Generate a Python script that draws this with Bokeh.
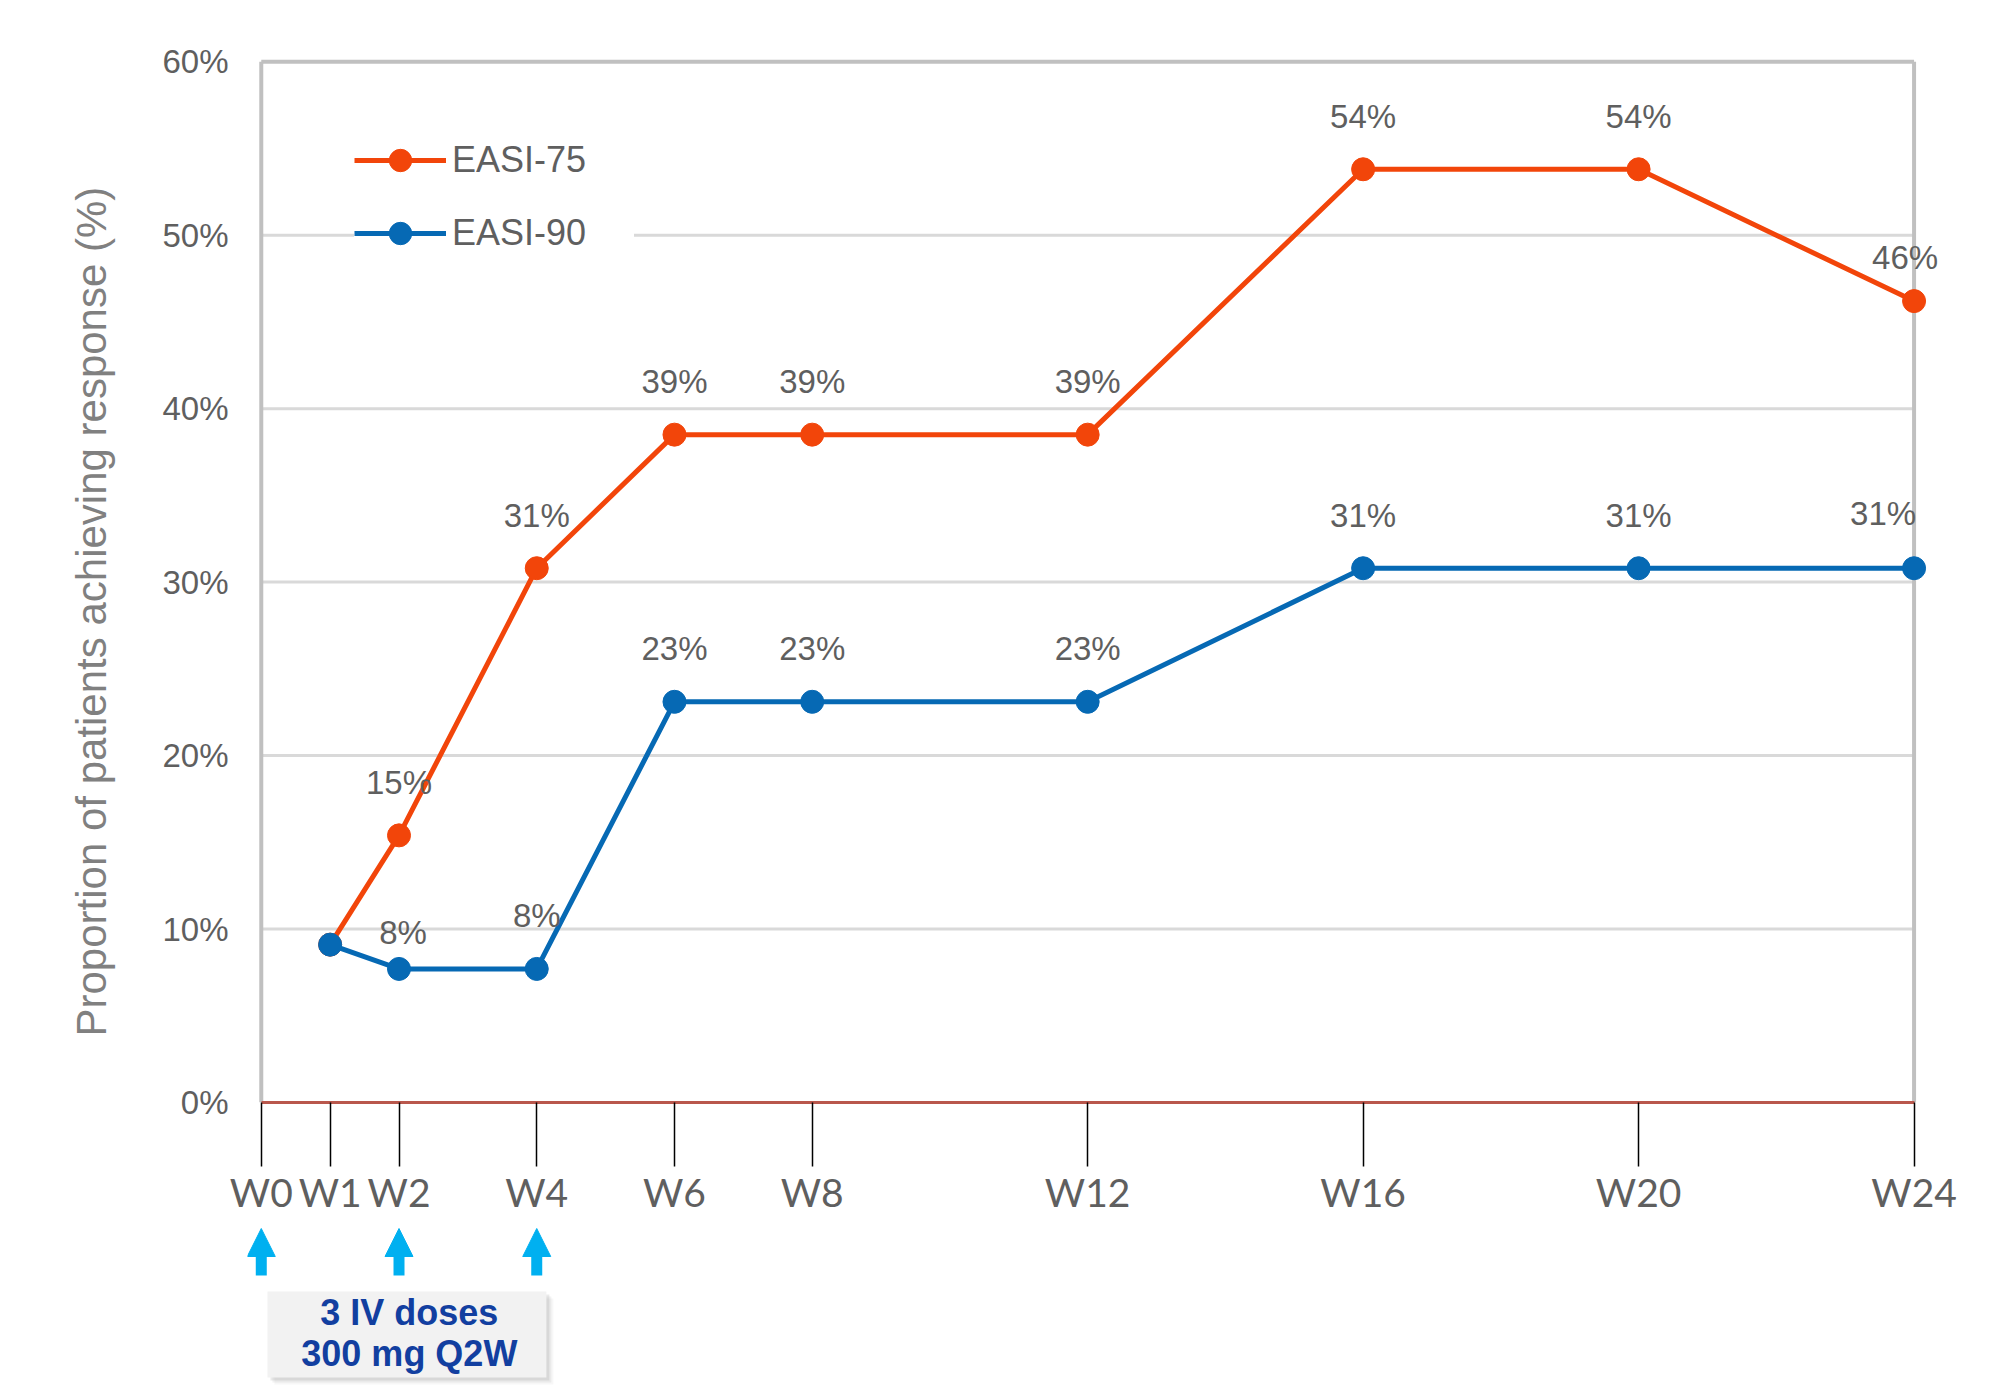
from bokeh.plotting import figure
from bokeh.models import (Range1d, FixedTicker, PrintfTickFormatter, Legend,
                          LegendItem, Arrow, NormalHead, ColumnDataSource, Title)
from bokeh.layouts import column
from bokeh.core.properties import value
from bokeh.embed import file_html
from bokeh.resources import INLINE

# ---- data -------------------------------------------------------------
weeks = [1, 2, 4, 6, 8, 12, 16, 20, 24]
easi75 = [9.1, 15.4, 30.8, 38.5, 38.5, 38.5, 53.8, 53.8, 46.2]
easi90 = [9.1, 7.7, 7.7, 23.1, 23.1, 23.1, 30.8, 30.8, 30.8]

tick_weeks = [0, 1, 2, 4, 6, 8, 12, 16, 20, 24]
tick_labels = ["W0", "W1", "W2", "W4", "W6", "W8", "W12", "W16", "W20", "W24"]
y_ticks = [0, 10, 20, 30, 40, 50, 60]

dose_weeks = [0, 2, 4]
dose_text = ["3 IV doses", "300 mg Q2W"]
y_title = "Proportion of patients achieving response (%)"

# ---- styling ----------------------------------------------------------
ORANGE = "#F2450A"
BLUE = "#0669B4"
CYAN = "#00B0F0"
TEXT_GREY = "#5f5f5f"
GRID = "#D9D9D9"
BORDER = "#C0C0C0"
FONT = "Liberation Sans"

# label nudges (screen px) for the value labels, first point (W1) unlabeled
nudge75_dx = [0, 0, 0, 0, 0, 0, 0, -9]
nudge75_dy = [-53, -53, -53, -53, -53, -53, -53, -44]
nudge90_dx = [4, 0, 0, 0, 0, 0, 0, -31]
nudge90_dy = [-36, -53, -53, -53, -53, -53, -53, -55]


def pct(v):
    # round half up, as the percentages are printed
    return f"{int(v + 0.5)}%"


W = 2006
H_MAIN = 1227
H_DOSE = 1394 - H_MAIN
LEFT, RIGHT = 247, 58
TOP = 56
FRAME_H = 1046

p = figure(width=W, height=H_MAIN, output_backend="svg", toolbar_location=None,
           x_range=Range1d(-0.2, 24.5), y_range=Range1d(0, 60.3),
           min_border_left=LEFT, min_border_right=RIGHT,
           min_border_top=TOP, min_border_bottom=H_MAIN - TOP - FRAME_H)
p.outline_line_color = None
p.background_fill_color = "white"
p.border_fill_color = "white"
p.xgrid.visible = False
p.ygrid.visible = False

x_lo, x_hi = tick_weeks[0], tick_weeks[-1]
y_hi = y_ticks[-1]

# horizontal gridlines, bounded by the plot border
inner = y_ticks[1:-1]
p.segment(x0=[x_lo] * len(inner), x1=[x_hi] * len(inner), y0=inner, y1=inner,
          line_color=GRID, line_width=3)
# plot border: top, left, right
p.segment(x0=[x_lo, x_lo, x_hi], y0=[y_hi, 0, 0], x1=[x_hi, x_lo, x_hi],
          y1=[y_hi, y_hi, y_hi], line_color=BORDER, line_width=4)

# series
l75 = p.line(weeks, easi75, line_color=ORANGE, line_width=5)
s75 = p.scatter(weeks, easi75, size=23, fill_color=ORANGE, line_color=ORANGE)
l90 = p.line(weeks, easi90, line_color=BLUE, line_width=5)
s90 = p.scatter(weeks, easi90, size=23, fill_color=BLUE, line_color=BLUE)

# value labels
for vals, dx, dy in ((easi75, nudge75_dx, nudge75_dy), (easi90, nudge90_dx, nudge90_dy)):
    src = ColumnDataSource(dict(
        x=weeks[1:], y=vals[1:], t=[pct(v) for v in vals[1:]], dx=dx, dy=dy))
    p.text(x="x", y="y", text="t", x_offset="dx", y_offset="dy", source=src,
           text_align="center", text_baseline="middle",
           text_font=value(FONT), text_font_size="33px", text_color=TEXT_GREY)

# legend
legend = Legend(items=[LegendItem(label="EASI-75", renderers=[l75, s75]),
                       LegendItem(label="EASI-90", renderers=[l90, s90])],
                location=(107, 841), orientation="vertical",
                glyph_width=92, glyph_height=56, spacing=17, padding=30,
                label_standoff=6, label_width=182, label_text_font=FONT,
                label_text_font_size="36px", label_text_color=TEXT_GREY,
                background_fill_color="white", background_fill_alpha=1.0,
                border_line_color=None)
p.add_layout(legend)

# x axis
xa = p.xaxis[0]
xa.ticker = FixedTicker(ticks=tick_weeks)
xa.major_label_overrides = {w: lab for w, lab in zip(tick_weeks, tick_labels)}
xa.bounds = (x_lo, x_hi)
xa.axis_line_color = "#B9574C"
xa.axis_line_width = 3
xa.major_tick_line_color = "black"
xa.major_tick_line_width = 1.5
xa.major_tick_out = 64
xa.major_tick_in = 0
xa.minor_tick_line_color = None
xa.major_label_standoff = 2
xa.major_label_text_font = "Lato"
xa.major_label_text_font_size = "39px"
xa.major_label_text_color = TEXT_GREY

# y axis
ya = p.yaxis[0]
ya.ticker = FixedTicker(ticks=y_ticks)
ya.formatter = PrintfTickFormatter(format="%d%%")
ya.axis_line_color = None
ya.major_tick_line_color = None
ya.minor_tick_line_color = None
ya.major_tick_out = 0
ya.major_tick_in = 0
ya.major_label_standoff = 19
ya.major_label_text_font = FONT
ya.major_label_text_font_size = "33px"
ya.major_label_text_color = TEXT_GREY

# rotated axis title in the left side panel, outside the tick labels
p.add_layout(Title(text=y_title, align="left", offset=66, standoff=89,
                   text_font=FONT, text_font_style="normal",
                   text_font_size="42px", text_color="#808080"), "left")

# ---- dosing strip under the axis ---------------------------------------
d = figure(width=W, height=H_DOSE, output_backend="svg", toolbar_location=None,
           x_range=p.x_range, y_range=Range1d(H_DOSE, 0),
           x_axis_type=None, y_axis_type=None,
           min_border_left=LEFT, min_border_right=RIGHT,
           min_border_top=0, min_border_bottom=0)
d.outline_line_color = None
d.background_fill_color = "white"
d.border_fill_color = "white"

arrows = ColumnDataSource(dict(x=dose_weeks, y0=[48] * len(dose_weeks),
                               y1=[1] * len(dose_weeks)))
d.add_layout(Arrow(end=NormalHead(size=28, fill_color=CYAN, line_color=CYAN,
                                  line_width=1),
                   x_start="x", y_start="y0", x_end="x", y_end="y1",
                   line_color=CYAN, line_width=11, source=arrows))

# text box with a soft drop shadow
box_l, box_r, box_t, box_b = 0.09, 4.14, 64, 150
for off, a in ((7, 0.06), (5, 0.10), (3, 0.16)):
    d.quad(left=box_l + off / 68.87, right=box_r + off / 68.87,
           top=box_t + off, bottom=box_b + off,
           fill_color="#7f7f7f", fill_alpha=a, line_color=None)
d.quad(left=box_l, right=box_r, top=box_t, bottom=box_b,
       fill_color="#F2F2F2", line_color=None)
d.text(x=[2.15, 2.15], y=[85, 126], text=dose_text,
       text_align="center", text_baseline="middle",
       text_font=value(FONT), text_font_style="bold",
       text_font_size="36px", text_color="#123FA0")

layout = column(p, d, spacing=0)
open("out.html", "w").write(file_html(layout, INLINE))
